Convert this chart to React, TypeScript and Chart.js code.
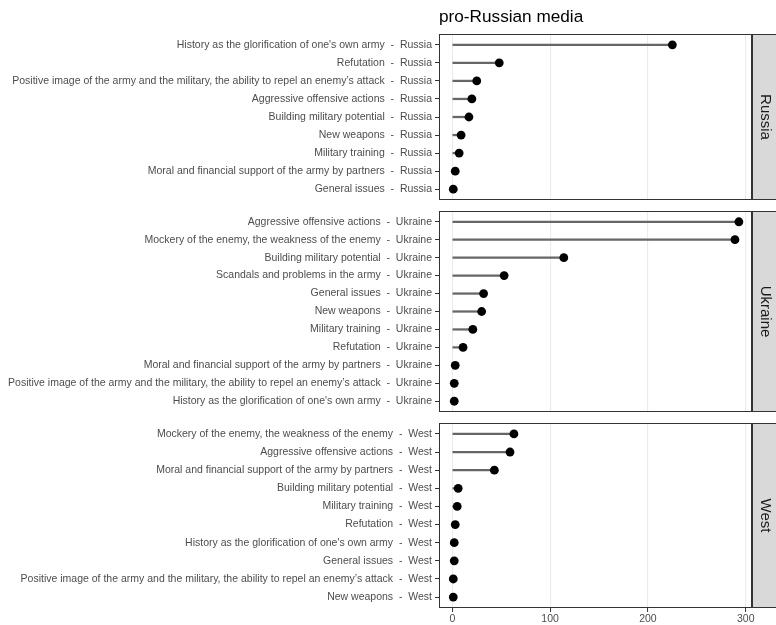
import React, { useEffect, useRef } from 'react';
import { Chart, registerables } from 'chart.js';

Chart.register(...registerables);

const FONT = '"Liberation Sans", Arial, Helvetica, sans-serif';

const chartTitle = 'pro-Russian media';
const xTicks = [0, 100, 200, 300];
const xMin = -13.6;
const xMax = 305.4;

const russiaCategories = [
  "History as the glorification of one's own army",
  'Refutation',
  'Positive image of the army and the military, the ability to repel an enemy’s attack',
  'Aggressive offensive actions',
  'Building military potential',
  'New weapons',
  'Military training',
  'Moral and financial support of the army by partners',
  'General issues',
];
const russiaValues = [225, 48, 25, 20, 17, 9, 7, 3, 1];

const ukraineCategories = [
  'Aggressive offensive actions',
  'Mockery of the enemy, the weakness of the enemy',
  'Building military potential',
  'Scandals and problems in the army',
  'General issues',
  'New weapons',
  'Military training',
  'Refutation',
  'Moral and financial support of the army by partners',
  'Positive image of the army and the military, the ability to repel an enemy’s attack',
  "History as the glorification of one's own army",
];
const ukraineValues = [293, 289, 114, 53, 32, 30, 21, 11, 3, 2, 2];

const westCategories = [
  'Mockery of the enemy, the weakness of the enemy',
  'Aggressive offensive actions',
  'Moral and financial support of the army by partners',
  'Building military potential',
  'Military training',
  'Refutation',
  "History as the glorification of one's own army",
  'General issues',
  'Positive image of the army and the military, the ability to repel an enemy’s attack',
  'New weapons',
];
const westValues = [63, 59, 43, 6, 5, 3, 2, 2, 1, 1];

type PanelSpec = {
  country: string;
  cats: string[];
  vals: number[];
  top: number;
  height: number;
  padTop: number;
  padBottom: number;
  showTitle: boolean;
  showX: boolean;
};

const panels: PanelSpec[] = [
  { country: 'Russia', cats: russiaCategories, vals: russiaValues, top: 0, height: 201, padTop: 0, padBottom: 1, showTitle: true, showX: false },
  { country: 'Ukraine', cats: ukraineCategories, vals: ukraineValues, top: 210, height: 203, padTop: 1, padBottom: 1, showTitle: false, showX: false },
  { country: 'West', cats: westCategories, vals: westValues, top: 422, height: 203, padTop: 1, padBottom: 0, showTitle: false, showX: true },
];

function panelPlugin(strip: string) {
  return {
    id: 'panelDecor',
    afterDatasetsDraw(chart: any) {
      const { ctx, chartArea } = chart;
      const l = Math.round(chartArea.left);
      const r = Math.round(chartArea.right);
      const t = Math.round(chartArea.top);
      const b = Math.round(chartArea.bottom);
      ctx.save();
      ctx.fillStyle = '#d9d9d9';
      ctx.fillRect(r + 1, t, 40, b - t);
      ctx.strokeStyle = '#333333';
      ctx.lineWidth = 1;
      ctx.strokeRect(r + 1.5, t + 0.5, 40, b - t - 1);
      ctx.strokeRect(l + 0.5, t + 0.5, r - l, b - t - 1);
      ctx.translate(r + 14, (t + b) / 2);
      ctx.rotate(Math.PI / 2);
      ctx.fillStyle = '#1a1a1a';
      ctx.font = `15px ${FONT}`;
      ctx.textAlign = 'center';
      ctx.textBaseline = 'middle';
      ctx.fillText(strip, 0, 0);
      ctx.restore();
    },
  };
}

function buildChart(canvas: HTMLCanvasElement, p: PanelSpec) {
  const labels = p.cats.map((c) => `${c}  -  ${p.country}`);
  const pts = p.vals.map((v, i) => ({ x: v, y: i }));
  const n = labels.length;
  return new Chart(canvas, {
    type: 'bar',
    data: {
      datasets: [
        {
          type: 'line',
          data: pts,
          showLine: false,
          pointRadius: 4.4,
          pointHoverRadius: 4.4,
          pointBackgroundColor: '#000000',
          pointBorderWidth: 0,
          borderWidth: 0,
          clip: false,
          order: 0,
        } as any,
        {
          type: 'bar',
          data: pts,
          backgroundColor: '#666666',
          barThickness: 1.6,
          borderWidth: 0,
          order: 1,
        } as any,
      ],
    },
    options: {
      animation: false,
      responsive: false,
      indexAxis: 'y',
      layout: { autoPadding: false, padding: { top: p.padTop, bottom: p.padBottom, left: 0, right: 25 } },
      events: [],
      plugins: {
        legend: { display: false },
        tooltip: { enabled: false },
        title: {
          display: p.showTitle,
          text: chartTitle,
          align: 'start',
          fullSize: false,
          color: '#000000',
          font: { size: 17.2, weight: 'normal', family: FONT, lineHeight: 1.2 },
          padding: { top: 7, bottom: 6.36 },
        },
      },
      scales: {
        x: {
          type: 'linear',
          min: xMin,
          max: xMax,
          offset: false,
          afterBuildTicks: (s: any) => {
            s.ticks = xTicks.map((v) => ({ value: v }));
          },
          afterFit: (s: any) => {
            s.height = p.showX ? 17 : 0;
            s.paddingLeft = 0;
            s.paddingRight = 0;
          },
          border: { display: false },
          grid: {
            offset: false,
            color: '#ebebeb',
            lineWidth: 1.1,
            drawTicks: p.showX,
            tickLength: 4,
            tickColor: '#333333',
            tickWidth: 1,
          },
          ticks: {
            display: p.showX,
            autoSkip: false,
            maxRotation: 0,
            padding: 1,
            color: '#4d4d4d',
            font: { size: 10.5, family: FONT },
          },
        },
        y: {
          type: 'linear',
          reverse: true,
          offset: false,
          min: -0.6,
          max: n - 0.4,
          afterBuildTicks: (s: any) => {
            s.ticks = labels.map((_, i) => ({ value: i }));
          },
          afterFit: (s: any) => {
            s.width = 439;
            s.paddingTop = 0;
            s.paddingBottom = 0;
          },
          border: { display: false },
          grid: {
            offset: false,
            drawOnChartArea: false,
            drawTicks: true,
            tickLength: 4,
            tickColor: '#333333',
            tickWidth: 1,
          },
          ticks: {
            autoSkip: false,
            padding: 3,
            color: '#4d4d4d',
            font: { size: 10.5, family: FONT },
            callback: (v: any) => labels[Math.round(Number(v))] ?? '',
          },
        },
      },
    } as any,
    plugins: [panelPlugin(p.country)],
  });
}

export default function App() {
  const r0 = useRef<HTMLCanvasElement>(null);
  const r1 = useRef<HTMLCanvasElement>(null);
  const r2 = useRef<HTMLCanvasElement>(null);
  const refs = [r0, r1, r2];

  useEffect(() => {
    const charts = panels.map((p, i) => buildChart(refs[i].current as HTMLCanvasElement, p));
    return () => charts.forEach((c) => c.destroy());
  }, []);

  return (
    <div style={{ position: 'absolute', left: 0, top: 0, width: 776, height: 625, background: '#ffffff' }}>
      {panels.map((p, i) => (
        <canvas
          key={p.country}
          ref={refs[i]}
          width={776}
          height={p.height}
          style={{ position: 'absolute', left: 0, top: p.top, width: 776, height: p.height }}
        />
      ))}
    </div>
  );
}
